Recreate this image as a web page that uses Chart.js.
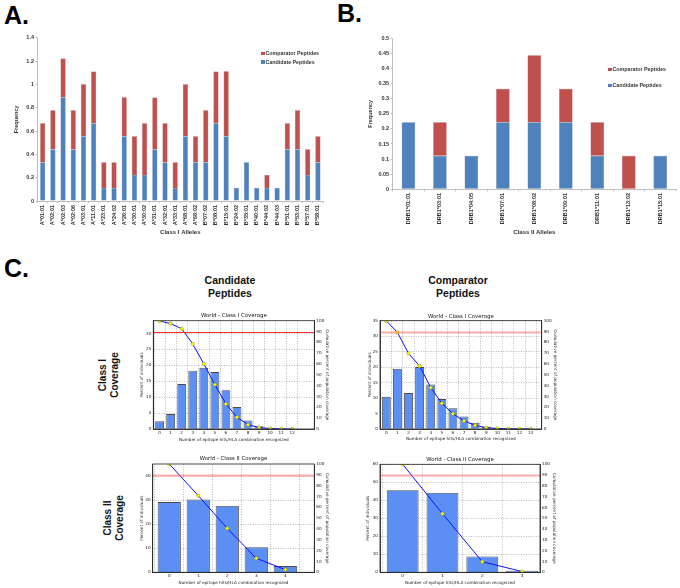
<!DOCTYPE html>
<html>
<head>
<meta charset="utf-8">
<script src="https://cdn.jsdelivr.net/npm/chart.js@4.4.1/dist/chart.umd.min.js"></script>
<style>
  body { margin: 0; background: #fff; }
  #fig { position: relative; width: 680px; height: 588px; overflow: hidden; font-family: 'Liberation Sans', Arial, sans-serif; }
  #fig canvas { position: absolute; }
  .panel { position: absolute; font-weight: bold; font-size: 25px; line-height: 1; color: #000; }
  .colhead { position: absolute; width: 100px; font-weight: bold; font-size: 10.5px; line-height: 13px; text-align: center; color: #111; }
  .rowhead { position: absolute; width: 60px; font-weight: bold; font-size: 10px; line-height: 12px; text-align: center; color: #111; transform: rotate(-90deg); }
  .legend { position: absolute; font-size: 5.3px; font-weight: bold; color: #333; white-space: nowrap; }
  .legend i { display: inline-block; width: 3.5px; height: 3.5px; margin-right: 1px; vertical-align: middle; }
</style>
</head>
<body>
<div id="fig">
  <div class="panel" style="left:4px;top:3px">A.</div>
  <div class="panel" style="left:337px;top:1px">B.</div>
  <div class="panel" style="left:4px;top:256px">C.</div>

  <canvas id="chartA" width="335" height="215" style="left:0px;top:30px"></canvas>
  <canvas id="chartB" width="340" height="215" style="left:340px;top:30px"></canvas>

  <div class="legend" style="left:261px;top:49px;line-height:8.6px">
    <div><i style="background:#c0504d"></i>Comparator Peptides</div>
    <div><i style="background:#4f81bd"></i>Candidate Peptides</div>
  </div>
  <div class="legend" style="left:608px;top:61px;line-height:16px">
    <div><i style="background:#c0504d"></i>Comparator Peptides</div>
    <div><i style="background:#4f81bd"></i>Candidate Peptides</div>
  </div>

  <div class="colhead" style="left:180px;top:274px">Candidate<br>Peptides</div>
  <div class="colhead" style="left:408px;top:274px">Comparator<br>Peptides</div>
  <div class="rowhead" style="left:79px;top:363px">Class I<br>Coverage</div>
  <div class="rowhead" style="left:84px;top:506px">Class II<br>Coverage</div>

  <canvas id="candI" width="210" height="140" style="left:125px;top:306px"></canvas>
  <canvas id="compI" width="215" height="140" style="left:352px;top:306px"></canvas>
  <canvas id="candII" width="210" height="138" style="left:125px;top:450px"></canvas>
  <canvas id="compII" width="215" height="138" style="left:352px;top:450px"></canvas>
</div>

<script>
// ---- data ----
const classIAlleles = ['A*01:01', 'A*02:01', 'A*02:03', 'A*02:06', 'A*03:01', 'A*11:01', 'A*23:01',
  'A*24:02', 'A*26:01', 'A*30:01', 'A*30:02', 'A*31:01', 'A*32:01', 'A*33:01', 'A*68:01', 'A*68:02',
  'B*07:02', 'B*08:01', 'B*15:01', 'B*24:02', 'B*35:01', 'B*40:01', 'B*44:02', 'B*44:03', 'B*51:01',
  'B*53:01', 'B*57:01', 'B*58:01'];
const classICandidate = [0.333, 0.444, 0.889, 0.444, 0.556, 0.667, 0.111, 0.111, 0.556, 0.222, 0.222,
  0.444, 0.333, 0.111, 0.556, 0.333, 0.333, 0.667, 0.556, 0.111, 0.333, 0.111, 0.111, 0.111, 0.444,
  0.444, 0.222, 0.333];
const classIComparator = [0.333, 0.333, 0.333, 0.333, 0.444, 0.444, 0.222, 0.222, 0.333, 0.333, 0.444,
  0.444, 0.333, 0.222, 0.444, 0.222, 0.444, 0.444, 0.556, 0, 0, 0, 0.111, 0, 0.222, 0.333, 0.222, 0.222];

const classIIAlleles = ['DRB1*01:01', 'DRB1*03:01', 'DRB1*04:05', 'DRB1*07:01', 'DRB1*08:02',
  'DRB1*09:01', 'DRB1*11:01', 'DRB1*13:02', 'DRB1*15:01'];
const classIICandidate = [0.222, 0.111, 0.111, 0.222, 0.222, 0.222, 0.111, 0, 0.111];
const classIIComparator = [0, 0.111, 0, 0.111, 0.222, 0.111, 0.111, 0.111, 0];

// population coverage (IEDB style): % individuals per number of hits, cumulative %
const candIHits = [0, 1, 2, 3, 4, 5, 6, 7, 8, 9, 10, 11, 12];
const candIPercent = [2.4, 4.7, 14.1, 18.3, 19.2, 17.9, 12.2, 6.9, 2.7, 0.9, 0.3, 0.1, 0];
const candICumulative = [99.7, 97.3, 92.6, 78.5, 60.2, 41.0, 23.1, 10.9, 4.0, 1.3, 0.4, 0.1, 0];

const compIHits = [0, 1, 2, 3, 4, 5, 6, 7, 8, 9, 10, 11, 12, 13];
const compIPercent = [10.4, 19.4, 11.6, 20.0, 14.4, 9.7, 6.7, 4.0, 2.0, 0.7, 0.3, 0.1, 0.05, 0];
const compICumulative = [99.8, 89.2, 69.8, 58.2, 38.2, 23.8, 14.1, 7.4, 3.4, 1.2, 0.5, 0.2, 0.1, 0];

const candIIHits = [0, 1, 2, 3, 4];
const candIIPercent = [29.2, 30.2, 27.6, 10.4, 2.6];
const candIICumulative = [100, 70.8, 40.6, 12.9, 2.5];

const compIIHits = [0, 1, 2, 3];
const compIIPercent = [45.6, 44.1, 8.8, 0.8];
const compIICumulative = [100, 54.2, 9.8, 0.7];

const coverageThreshold = 90;

// ---- helpers ----
const BLUE = '#4f81bd';
const RED = '#c0504d';
const AXIS_GREY = '#bfbfbf';

// fix an axis box to an exact size so the plot areas line up with the figure
const fixSize = px => s => {
  if (s.isHorizontal()) s.height = px; else s.width = px;
  s.paddingLeft = s.paddingRight = s.paddingTop = s.paddingBottom = 0;
};

function freqChart(id, labels, cand, comp, o) {
  const font = { family: 'Liberation Sans', weight: 'bold', size: 5.5, lineHeight: 1 };
  new Chart(document.getElementById(id), {
    type: 'bar',
    data: {
      labels: labels,
      datasets: [
        { label: 'Candidate Peptides', data: cand, backgroundColor: BLUE,
          borderColor: '#3c6a9e', borderWidth: 0.4 },
        { label: 'Comparator Peptides', data: comp, backgroundColor: RED,
          borderColor: '#9c3c3a', borderWidth: 0.4 }
      ]
    },
    options: {
      responsive: false,
      animation: false,
      devicePixelRatio: 1,
      layout: { padding: { top: o.padTop, right: o.padRight } },
      datasets: { bar: { categoryPercentage: 1, barPercentage: o.barPct } },
      plugins: { legend: { display: false }, tooltip: { enabled: false } },
      scales: {
        x: {
          stacked: true,
          afterFit: fixSize(o.xHeight),
          grid: { drawOnChartArea: false, offset: true, tickLength: 2, color: AXIS_GREY },
          border: { color: AXIS_GREY },
          ticks: { autoSkip: false, minRotation: 90, maxRotation: 90, padding: o.xTickPad, color: '#333', font },
          title: { display: true, text: o.xTitle, color: '#333', padding: { top: 0, bottom: 10 },
                   font: { family: 'Liberation Sans', weight: 'bold', size: 6, lineHeight: 1 } }
        },
        y: {
          stacked: true,
          min: 0, max: o.yMax,
          afterFit: fixSize(o.yWidth),
          grid: { drawOnChartArea: false, tickLength: 2, color: AXIS_GREY },
          border: { color: AXIS_GREY },
          ticks: { stepSize: o.yStep, padding: 1.6, color: '#333', font,
                   callback: v => String(Math.round(v * 100) / 100) },
          title: { display: true, text: 'Frequency', color: '#333', padding: { top: o.yTitlePad, bottom: 0 },
                   font: { family: 'Liberation Sans', weight: 'bold', size: 5.5, lineHeight: 1 } }
        }
      }
    }
  });
}

// frame around the plot + the 90 % coverage reference line
const coveragePlugin = {
  id: 'coverageDeco',
  afterDatasetsDraw(chart, args, opts) {
    const { ctx, chartArea: a, scales } = chart;
    const y = Math.round(scales.y1.getPixelForValue(coverageThreshold)) + 0.5;
    ctx.save();
    ctx.strokeStyle = opts.lineColor;
    ctx.lineWidth = opts.lineWidth;
    ctx.setLineDash([]);
    ctx.beginPath();
    ctx.moveTo(a.left, y);
    ctx.lineTo(a.right, y);
    ctx.stroke();
    ctx.strokeStyle = '#222';
    ctx.lineWidth = 0.8;
    ctx.strokeRect(a.left, a.top, a.right - a.left, a.bottom - a.top);
    ctx.restore();
  }
};

function coverageChart(id, title, hits, percent, cumulative, o) {
  const fs = 4.2;
  const tickFont = { family: 'DejaVu Sans', size: fs, lineHeight: 1 };
  const titleFs = 5.4;
  const dotted = { color: '#222', width: 0.8, dash: [1, 1.5] };
  new Chart(document.getElementById(id), {
    type: 'bar',
    data: {
      datasets: [
        { type: 'line', yAxisID: 'y1', order: 0,
          data: hits.map((h, i) => ({ x: h, y: cumulative[i] })),
          borderColor: '#1010ff', borderWidth: 1, tension: 0,
          pointRadius: 1.7, pointBackgroundColor: '#ffff00', pointBorderColor: '#8a8a00', pointBorderWidth: 0.5 },
        { yAxisID: 'y', order: 1,
          data: hits.map((h, i) => ({ x: h, y: percent[i] })),
          backgroundColor: '#5b8ff3', borderColor: '#4a4a4a', borderWidth: 0.9,
          categoryPercentage: 0.8, barPercentage: 1 }
      ]
    },
    options: {
      responsive: false,
      animation: false,
      devicePixelRatio: 1,
      layout: { padding: 0 },
      plugins: {
        legend: { display: false },
        tooltip: { enabled: false },
        title: {
          display: true, text: title, color: '#111', fullSize: false,
          font: { family: 'DejaVu Sans', size: titleFs, weight: 'normal', lineHeight: 1 },
          padding: { top: o.titleY - titleFs / 2, bottom: o.top - titleFs - (o.titleY - titleFs / 2) }
        },
        coverageDeco: { lineColor: o.lineColor, lineWidth: o.lineWidth }
      },
      scales: {
        x: {
          type: 'linear', min: -0.57, max: o.xMax, offset: false,
          afterFit: fixSize(o.bottom),
          afterBuildTicks: s => { s.ticks = hits.map(v => ({ value: v })); },
          grid: { color: '#8a8a8a', lineWidth: 0.6, drawTicks: false },
          border: dotted,
          ticks: { padding: 2, color: '#222', font: tickFont },
          title: { display: true, text: 'Number of epitope hits/HLA combination recognized', color: '#222',
                   font: tickFont, padding: { top: 0, bottom: o.xTitleY - fs / 2 } }
        },
        y: {
          position: 'left', min: 0, max: o.yMax,
          afterFit: fixSize(o.left),
          afterBuildTicks: s => { s.ticks = s.ticks.filter(t => t.value % o.yStep === 0); },
          grid: { color: '#8a8a8a', lineWidth: 0.6, drawTicks: false },
          border: dotted,
          ticks: { stepSize: o.yStep, padding: 2, color: '#222', font: tickFont },
          title: { display: true, text: 'Percent of individuals', color: '#222', font: tickFont,
                   padding: { top: o.leftTitleX - fs / 2, bottom: 0 } }
        },
        y1: {
          position: 'right', min: 0, max: 100,
          afterFit: fixSize(o.right),
          grid: { drawOnChartArea: false, drawTicks: false },
          border: { color: '#222', width: 0.8 },
          ticks: { stepSize: 10, padding: 2, color: '#222', font: tickFont },
          title: { display: true, text: 'Cumulative percent of population coverage', color: '#222', font: tickFont,
                   padding: { top: o.rightTitleX - fs / 2, bottom: 0 } }
        }
      }
    },
    plugins: [coveragePlugin]
  });
}

// ---- panels ----
freqChart('chartA', classIAlleles, classICandidate, classIComparator, {
  padTop: 7.7, padRight: 12, xHeight: 44, yWidth: 37.6, barPct: 0.5,
  yMax: 1.4, yStep: 0.2, xTickPad: 2, yTitlePad: 14.2, xTitle: 'Class I Alleles'
});
freqChart('chartB', classIIAlleles, classIICandidate, classIIComparator, {
  padTop: 8.3, padRight: 4, xHeight: 55.7, yWidth: 52.7, barPct: 0.43,
  yMax: 0.5, yStep: 0.05, xTickPad: 1.7, yTitlePad: 28, xTitle: 'Class II Alleles'
});

coverageChart('candI', 'World - Class I Coverage', candIHits, candIPercent, candICumulative, {
  left: 28.3, right: 20.7, top: 14.7, bottom: 17, titleY: 10, leftTitleX: 16.7, rightTitleX: 8,
  xTitleY: 6.5, xMax: 14, yMax: 34, yStep: 5, lineColor: '#ff3333', lineWidth: 1
});
coverageChart('compI', 'World - Class I Coverage', compIHits, compIPercent, compICumulative, {
  left: 28, right: 25.3, top: 14.7, bottom: 17, titleY: 10.7, leftTitleX: 18, rightTitleX: 12,
  xTitleY: 6.7, xMax: 14, yMax: 35, yStep: 5, lineColor: 'rgba(255,70,70,0.45)', lineWidth: 2
});
coverageChart('candII', 'World - Class II Coverage', candIIHits, candIIPercent, candIICumulative, {
  left: 27.7, right: 20.7, top: 14, bottom: 15.7, titleY: 9, leftTitleX: 16.7, rightTitleX: 7.7,
  xTitleY: 5, xMax: 5, yMax: 45, yStep: 10, lineColor: 'rgba(255,70,70,0.45)', lineWidth: 2
});
coverageChart('compII', 'World - Class II Coverage', compIIHits, compIIPercent, compIICumulative, {
  left: 28, right: 27, top: 14.3, bottom: 15.7, titleY: 9.3, leftTitleX: 16.3, rightTitleX: 12.7,
  xTitleY: 5, xMax: 3.45, yMax: 60, yStep: 10, lineColor: 'rgba(255,70,70,0.45)', lineWidth: 2
});
</script>
</body>
</html>
